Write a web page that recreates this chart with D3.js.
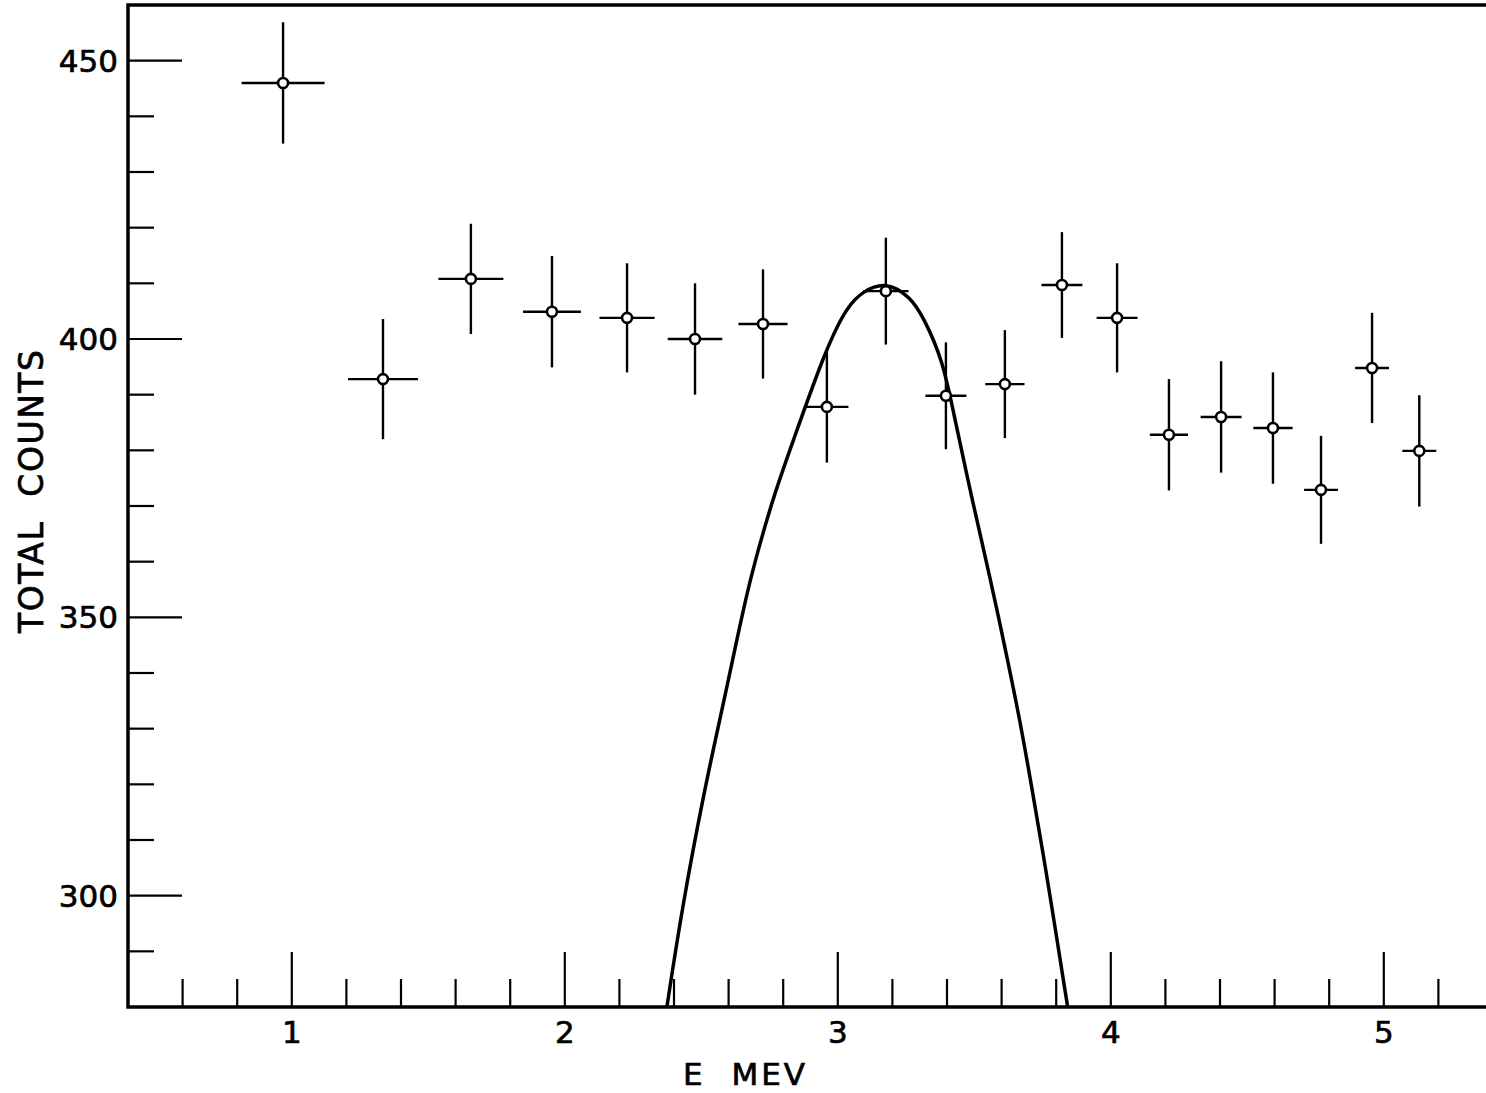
<!DOCTYPE html>
<html lang="en">
<head>
    <meta charset="UTF-8">
    <title>Total counts vs E</title>
    <script src="https://cdnjs.cloudflare.com/ajax/libs/d3/7.8.5/d3.min.js"></script>
    <style>
        body { margin: 0; background: #ffffff; }
        svg { display: block; }
        text { font-family: "DejaVu Sans", sans-serif; fill: #000; stroke: #000; stroke-width: 0.7px; }
    </style>
</head>
<body>
    <div id="chart"></div>
    <script>
        // measured points: energy (MeV), total counts, half widths of the bars
        const energy = [0.968, 1.334, 1.656, 1.953, 2.228, 2.477, 2.726, 2.960, 3.176, 3.396,
                        3.612, 3.821, 4.023, 4.213, 4.404, 4.594, 4.770, 4.957, 5.130];
        const counts = [446.0, 392.8, 410.8, 404.9, 403.8, 400.0, 402.7, 387.8, 408.6, 389.8,
                        391.9, 409.7, 403.8, 382.8, 386.0, 384.0, 372.9, 394.8, 379.9];
        const energyErr = [0.152, 0.128, 0.119, 0.106, 0.101, 0.100, 0.090, 0.079, 0.083, 0.075,
                           0.072, 0.075, 0.075, 0.070, 0.075, 0.072, 0.062, 0.062, 0.062];
        const countsErr = [10.9, 10.8, 9.9, 10.0, 9.8, 10.0, 9.8, 10.0, 9.6, 9.6,
                           9.7, 9.5, 9.8, 10.0, 10.0, 10.0, 9.7, 9.9, 10.0];

        // peak curve
        const curveE = [2.374, 2.374, 2.430, 2.514, 2.568, 2.630, 2.680, 2.764, 2.825,
                        2.954, 3.033, 3.092, 3.177, 3.265, 3.313, 3.385, 3.429, 3.495, 3.557,
                        3.612, 3.667, 3.710, 3.756, 3.780, 3.842, 3.842];
        const curveN = [280, 280, 298.0, 319.6, 331.6, 345.9, 357.3, 371.7, 380.1,
                        398.0, 405.8, 408.6, 410.3, 407.6, 404.0, 396.2, 385.5, 370.5, 357.3,
                        344.7, 331.6, 319.6, 306.4, 299.2, 280, 280];

        const xMajor = [1, 2, 3, 4, 5];
        const xMinor = [0.6, 0.8, 1.2, 1.4, 1.6, 1.8, 2.2, 2.4, 2.6, 2.8, 3.2, 3.4, 3.6, 3.8,
                        4.2, 4.4, 4.6, 4.8, 5.2];
        const yMajor = [300, 350, 400, 450];
        const yMinor = [290, 310, 320, 330, 340, 360, 370, 380, 390, 410, 420, 430, 440];

        const W = 1486, H = 1093;
        const svg = d3.select("#chart").append("svg")
            .attr("width", W)
            .attr("height", H);

        const x = d3.scaleLinear().domain([0.4, 5.4]).range([128, 1493]);
        const y = d3.scaleLinear().domain([280, 460]).range([1007, 5]);

        const plot = svg.append("g");

        // frame: left, top, bottom
        plot.append("path")
            .attr("d", `M${x(5.4)},${y(460)}H${x(0.4)}V${y(280)}H${x(5.4)}`)
            .attr("fill", "none")
            .attr("stroke", "#000")
            .attr("stroke-width", 3.5);

        // y ticks point inward
        const yTicks = yMajor.map(v => ({ v, len: 54 })).concat(yMinor.map(v => ({ v, len: 26 })));
        plot.selectAll(".ytick")
            .data(yTicks)
            .enter().append("line")
            .attr("x1", x(0.4))
            .attr("x2", d => x(0.4) + d.len)
            .attr("y1", d => y(d.v))
            .attr("y2", d => y(d.v))
            .attr("stroke", "#000")
            .attr("stroke-width", 2.2);

        const xTicks = xMajor.map(v => ({ v, len: 55 })).concat(xMinor.map(v => ({ v, len: 28 })));
        plot.selectAll(".xtick")
            .data(xTicks)
            .enter().append("line")
            .attr("x1", d => x(d.v))
            .attr("x2", d => x(d.v))
            .attr("y1", y(280))
            .attr("y2", d => y(280) - d.len)
            .attr("stroke", "#000")
            .attr("stroke-width", 2.2);

        svg.selectAll(".ylabel")
            .data(yMajor)
            .enter().append("text")
            .attr("x", 118)
            .attr("y", d => y(d) + 11)
            .attr("text-anchor", "end")
            .style("font-size", "31px")
            .text(d => d);

        svg.selectAll(".xlabel")
            .data(xMajor)
            .enter().append("text")
            .attr("x", d => x(d))
            .attr("y", 1043)
            .attr("text-anchor", "middle")
            .style("font-size", "31px")
            .text(d => d);

        svg.append("text")
            .attr("x", 683)
            .attr("y", 1085)
            .attr("textLength", 122)
            .attr("lengthAdjust", "spacing")
            .style("font-size", "31px")
            .style("white-space", "pre")
            .text("E  MEV");

        svg.append("text")
            .attr("transform", "translate(43,633) rotate(-90)")
            .attr("textLength", 283)
            .attr("lengthAdjust", "spacing")
            .style("font-size", "33px")
            .style("white-space", "pre")
            .text("TOTAL  COUNTS");

        // fitted peak
        const curveData = curveE.map((e, i) => ({ e, n: curveN[i] }));
        plot.append("path")
            .datum(curveData)
            .attr("fill", "none")
            .attr("stroke", "#000")
            .attr("stroke-width", 3.5)
            .attr("d", d3.line()
                .x(d => x(d.e))
                .y(d => y(d.n))
                .curve(d3.curveBasis));

        const pts = energy.map((e, i) => ({ e, n: counts[i], de: energyErr[i], dn: countsErr[i] }));

        const bars = plot.selectAll(".pt")
            .data(pts)
            .enter().append("g");

        bars.append("line")
            .attr("x1", d => x(d.e - d.de))
            .attr("x2", d => x(d.e + d.de))
            .attr("y1", d => y(d.n))
            .attr("y2", d => y(d.n))
            .attr("stroke", "#000")
            .attr("stroke-width", 2.4);

        bars.append("line")
            .attr("x1", d => x(d.e))
            .attr("x2", d => x(d.e))
            .attr("y1", d => y(d.n - d.dn))
            .attr("y2", d => y(d.n + d.dn))
            .attr("stroke", "#000")
            .attr("stroke-width", 2.4);

        bars.append("circle")
            .attr("cx", d => x(d.e))
            .attr("cy", d => y(d.n))
            .attr("r", 5)
            .attr("fill", "#fff")
            .attr("stroke", "#000")
            .attr("stroke-width", 2.6);
    </script>
</body>
</html>
